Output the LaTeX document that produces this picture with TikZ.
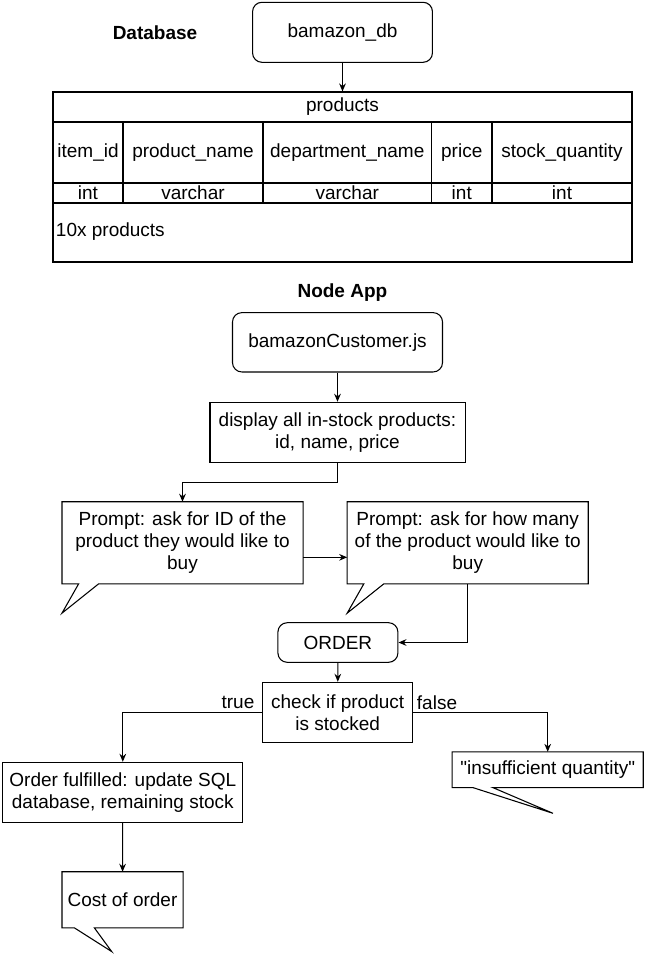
\documentclass[tikz,border=0pt]{standalone}
\usepackage{fontspec}
\setmainfont{Liberation Sans}[Ligatures=TeXOff]
\usetikzlibrary{arrows.meta, calc}

\begin{document}
\begin{tikzpicture}[x=0.75pt, y=-0.75pt, line width=0.8pt,
    font=\fontsize{14.25}{16.5}\selectfont,
    box/.style={draw, align=center, inner sep=0pt},
    rbox/.style={box, rounded corners=7pt},
    bubble/.style={align=center, inner sep=0pt},
    link/.style={-{Stealth[length=6pt,width=5pt]}},
    heading/.style={font=\fontsize{14.25}{16.5}\selectfont\bfseries}]
  \useasboundingbox (0,0) rectangle (645,955);

  % database part
  \node[heading] (dbhead) at (155,33) {Database};
  \node[rbox, minimum width=134.9pt, minimum height=45pt] (db) at (342.5,32.3) {bamazon\_db};

  \node[box, minimum width=434.25pt, minimum height=22.5pt] (products) at (342.5,107) {products};
  \draw (53,122) rectangle (632,262); % table body
  \draw (53,183) -- (632,183) (53,203) -- (632,203);
  \foreach \x in {123,263,431.5,492} \draw (\x,122) -- (\x,203);
  \foreach \x/\col/\typ [count=\i] in {88/item\_id/int, 193/product\_name/varchar,
      347.25/department\_name/varchar, 461.75/price/int, 562/stock\_quantity/int} {
    \node (col\i) at (\x,152.5) {\col};
    \node (typ\i) at (\x,193) {\typ};
  }
  \node[anchor=west] (rows) at (51,232) {10x products};

  \draw[link] (db) -- (products);

  % node app part
  \node[heading] (apphead) at (342.4,293) {Node App};
  \node[rbox, minimum width=157.5pt, minimum height=44.5pt] (customer) at (337.5,342.3) {bamazonCustomer.js};
  \node[box, minimum width=191.3pt, minimum height=45pt] (display) at (337.5,432.3) {display all in-stock products:\\id, name, price};

  \node[bubble, minimum width=180pt, minimum height=60.75pt] (askid) at (182.5,542.8) {Prompt: ask for ID of the\\product they would like to\\buy};
  \draw (askid.south west) -- (askid.north west) -- (askid.north east) -- (askid.south east)
    -- ([xshift=27.5pt]askid.south west) -- ([yshift=-22pt]askid.south west)
    -- ([xshift=12.5pt]askid.south west) -- cycle;

  \node[bubble, minimum width=180pt, minimum height=60.75pt] (askqty) at (467.7,542.8) {Prompt: ask for how many\\of the product would like to\\buy};
  \draw (askqty.south west) -- (askqty.north west) -- (askqty.north east) -- (askqty.south east)
    -- ([xshift=27.5pt]askqty.south west) -- ([yshift=-22pt]askqty.south west)
    -- ([xshift=12.5pt]askqty.south west) -- cycle;

  \node[rbox, minimum width=90pt, minimum height=29.7pt] (order) at (337.9,642.5) {ORDER};
  \node[box, minimum width=112.5pt, minimum height=45pt] (check) at (337.7,712.3) {check if product\\is stocked};
  \node (yes) at (238,702.5) {true};
  \node (no) at (437,702.5) {false};

  \node[box, minimum width=180pt, minimum height=45pt] (done) at (122.8,792.3) {Order fulfilled: update SQL\\database, remaining stock};

  \node[bubble, minimum width=90pt, minimum height=41.25pt] (cost) at (122.5,899.8) {Cost of order};
  \draw (cost.south west) -- (cost.north west) -- (cost.north east) -- (cost.south east)
    -- ([xshift=24.3pt]cost.south west) -- ([xshift=37.3pt,yshift=-17.8pt]cost.south west)
    -- ([xshift=9.3pt]cost.south west) -- cycle;

  \node[bubble, minimum width=142.5pt, minimum height=26pt] (short) at (547.7,769.7) {"insufficient quantity"};
  \draw (short.south west) -- (short.north west) -- (short.north east) -- (short.south east)
    -- ([xshift=30.5pt]short.south west) -- ([xshift=75.6pt,yshift=-19.3pt]short.south west)
    -- ([xshift=15.5pt]short.south west) -- cycle;

  \draw[link] (customer) -- (display);
  \draw[link] (display.south) -- ++(0,20) -| (askid.north);
  \draw[link] ([yshift=-10.9pt]askid.east) -- ([yshift=-10.9pt]askqty.west);
  \draw[link] (askqty.south) |- (order.east);
  \draw[link] (order) -- (check);
  \draw[link] (check.west) -| (done.north);
  \draw[link] (check.east) -| (short.north);
  \draw[link] (done) -- (cost);
\end{tikzpicture}
\end{document}
